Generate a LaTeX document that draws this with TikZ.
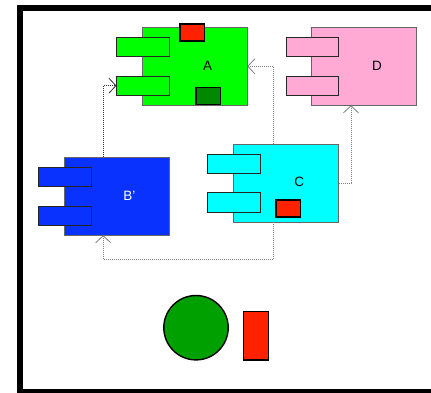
\documentclass[tikz,border=0pt]{standalone}
\usepackage{fontspec}
\setmainfont{Liberation Sans}
\usetikzlibrary{arrows.meta}
\definecolor{cgreen}{HTML}{00FF00}
\definecolor{cpink}{HTML}{FFAAD4}
\definecolor{cblue}{HTML}{0A32FF}
\definecolor{ccyan}{HTML}{00FFFF}
\definecolor{cred}{HTML}{FF2200}
\definecolor{cdkgreen}{HTML}{008800}
\definecolor{cball}{HTML}{00A000}
\begin{document}
\begin{tikzpicture}[x=1pt,y=-1pt,
  box/.style={rectangle,inner sep=0pt,outer sep=0pt},
  body/.style={box,draw=gray!80!black,line width=0.9pt,minimum width=105pt,minimum height=78pt},
  tab/.style={box,draw=black!85,line width=0.9pt,minimum width=52.7pt,minimum height=19.2pt},
  marker/.style={box,draw=black,line width=1.6pt,minimum width=24.6pt,minimum height=17pt},
  link/.style={draw=gray,line width=0.9pt,dash pattern=on 1pt off 1pt,
    -{Straight Barb[length=7pt,width=15pt,line width=0.8pt]}},
  lbl/.style={font=\fontsize{13.5}{15}\selectfont}]
\useasboundingbox (0,0) rectangle (431,392);
% outer frame
\draw[line width=6pt] (445,8) -- (20,8) -- (20,392) -- (445,392);

% component A
\node[body,fill=cgreen] (A) at (194.8,66.3) {};
\node[tab,fill=cgreen] (A1) at (142.8,46.8) {};
\node[tab,fill=cgreen] (A2) at (142.8,85.7) {};
\node[marker,fill=cred] (Atop) at (192,32.2) {};
\node[marker,fill=cdkgreen] (Abot) at (208,96) {};
\node[lbl] (Alabel) at (207.7,66) {A};

% component D
\node[body,fill=cpink] (D) at (364.2,66.3) {};
\node[tab,fill=cpink] (D1) at (312.5,46.8) {};
\node[tab,fill=cpink] (D2) at (312.5,85.7) {};
\node[lbl] (Dlabel) at (377,66) {D};

% component B'
\node[body,fill=cblue] (B) at (116.7,196.2) {};
\node[tab,fill=cblue] (B1) at (64.7,176.8) {};
\node[tab,fill=cblue] (B2) at (64.7,215.7) {};
\node[lbl,text=white] (Blabel) at (129.3,195.7) {B'};

% component C
\node[body,fill=ccyan] (C) at (286.2,183) {};
\node[tab,fill=ccyan] (C1) at (234,163.8) {};
\node[tab,fill=ccyan] (C2) at (234,202.5) {};
\node[marker,fill=cred] (Cmark) at (288,208.2) {};
\node[lbl] (Clabel) at (299.3,182.3) {C};

% connectors
\coordinate (CB) at ([xshift=39.6pt,yshift=-37.3pt]C.south west);
\draw[link,draw=black!80] ([xshift=39pt]B.north west) |- (A2.west);
\draw[link] ([xshift=39.6pt]C.north west) |- (A.east);
\draw[link] (C.east) -| ([xshift=39.3pt]D.south west);
\draw[link] ([xshift=39.6pt]C.south west) -- (CB) -| ([xshift=39pt]B.south west);

% loose shapes
\node[circle,inner sep=0pt,minimum size=64.4pt,draw=black,line width=1.4pt,fill=cball] (ball) at (196,327.7) {};
\node[box,draw=black,line width=1.4pt,minimum width=24.6pt,minimum height=48.3pt,fill=cred] (bar) at (256,335.8) {};
\end{tikzpicture}
\end{document}
